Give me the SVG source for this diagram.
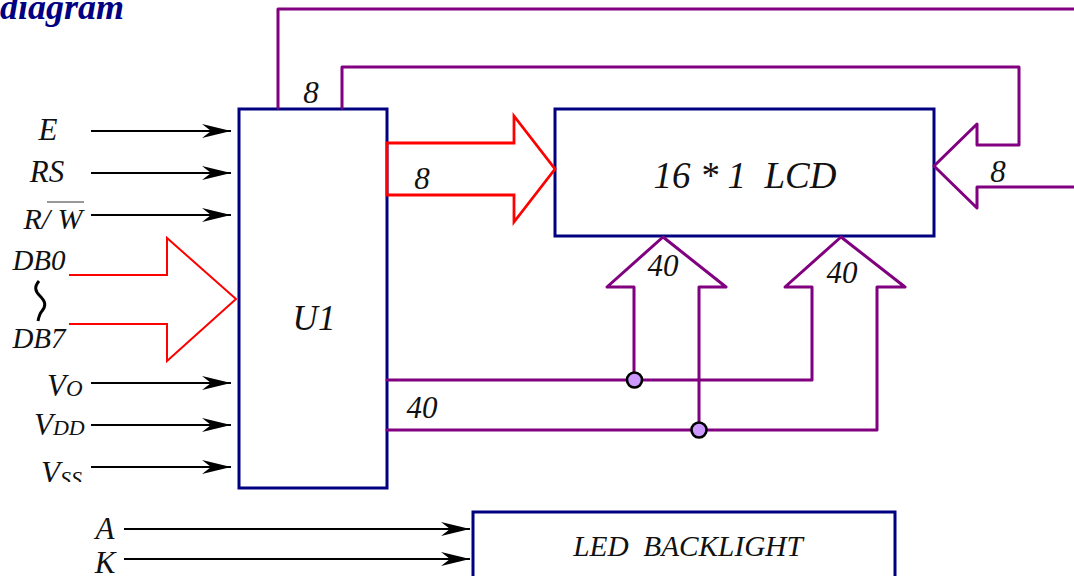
<svg xmlns="http://www.w3.org/2000/svg" width="1074" height="576" viewBox="0 0 1074 576">
<style>
text{font-family:"Liberation Serif","Times New Roman",serif;font-style:italic;fill:#111}
.box{fill:none;stroke:#000080;stroke-width:3}
.p{fill:none;stroke:#800080;stroke-width:3;stroke-linejoin:round;stroke-linecap:round}
.r{fill:none;stroke:#f00}
.a{stroke:#000;stroke-width:2.2;fill:none;marker-end:url(#arr)}
.d{fill:#c9f;stroke:#000;stroke-width:2.6}
</style>
<defs><marker id="arr" markerUnits="userSpaceOnUse" markerWidth="30" markerHeight="16" refX="29" refY="7" orient="auto"><path d="M0 0L29 7L0 14L9 7Z" fill="#000"/></marker></defs>
<rect width="1074" height="576" fill="#fff"/>
<text x="124" y="19" text-anchor="end" style="font-size:36px;font-weight:bold;fill:#000080">diagram</text>
<g id="U1"><path class="box" d="M239 109H387V488H239Z"/><text x="314" y="330" text-anchor="middle" style="font-size:35px">U1</text></g>
<g id="LCD"><path class="box" d="M555 109H934V236H555Z"/><text x="745" y="188" text-anchor="middle" style="font-size:37px;white-space:pre">16 * 1  LCD</text></g>
<g id="backlight"><path class="box" d="M473 576V512H895V576"/><text x="688" y="556" text-anchor="middle" style="font-size:29.300px;white-space:pre">LED  BACKLIGHT</text></g>
<g id="connectors">
<path class="a" d="M91 131H231"/><path class="a" d="M91 173H231"/><path class="a" d="M91 215H231"/>
<path class="a" d="M91 383H231"/><path class="a" d="M91 425H231"/><path class="a" d="M91 467H231"/>
<path class="a" d="M124 529H470"/><path class="a" d="M124 559H470"/>
<path class="r" stroke-width="2" d="M69 275H167V238L236 299L167 361V324H69"/>
<path class="r" stroke-width="2.800" d="M387 143H514V116L555 169L514 222V195H387Z"/>
<path d="M39 281C34 287 35 291 40 296C46 302 46 306 42 311C40 313 39 316 38 321" fill="none" stroke="#000" stroke-width="3"/>
<path class="p" d="M278 108V9H1074"/>
<path class="p" d="M342 108V67H1019V145H977V124L934 166L977 208V187H1074"/>
<path class="p" d="M387 380H812V287H785L841 237L905 287H877V430H387"/>
<path class="p" d="M634 380V287H607L663 237L726 287H699V430"/>
<circle class="d" cx="634.500" cy="380" r="7.500"/><circle class="d" cx="699" cy="430" r="7.500"/>
</g>
<g id="labels" style="font-size:31px">
<text x="48" y="140" text-anchor="middle">E</text>
<text x="47" y="182" text-anchor="middle">RS</text>
<text x="53" y="229" text-anchor="middle" style="font-size:30px">R/ W</text>
<path d="M47 202H84" stroke="#333" stroke-width="1" fill="none"/>
<text x="39" y="270" text-anchor="middle" style="font-size:29px">DB0</text>
<text x="39" y="348" text-anchor="middle" style="font-size:29px">DB7</text>
<text x="47" y="396">V<tspan style="font-size:23px">O</tspan></text>
<text x="34" y="435">V<tspan style="font-size:22px">DD</tspan></text>
<text x="41" y="483">V<tspan dy="3" style="font-size:22px">SS</tspan></text>
<rect x="38" y="482" width="50" height="9" fill="#fff"/>
<text x="105" y="539" text-anchor="middle">A</text>
<text x="105" y="573" text-anchor="middle">K</text>
<text x="311" y="103" text-anchor="middle">8</text>
<text x="422" y="189" text-anchor="middle">8</text>
<text x="998" y="182" text-anchor="middle">8</text>
<text x="663" y="276" text-anchor="middle">40</text>
<text x="842" y="283" text-anchor="middle">40</text>
<text x="422" y="418" text-anchor="middle">40</text>
</g>
</svg>
